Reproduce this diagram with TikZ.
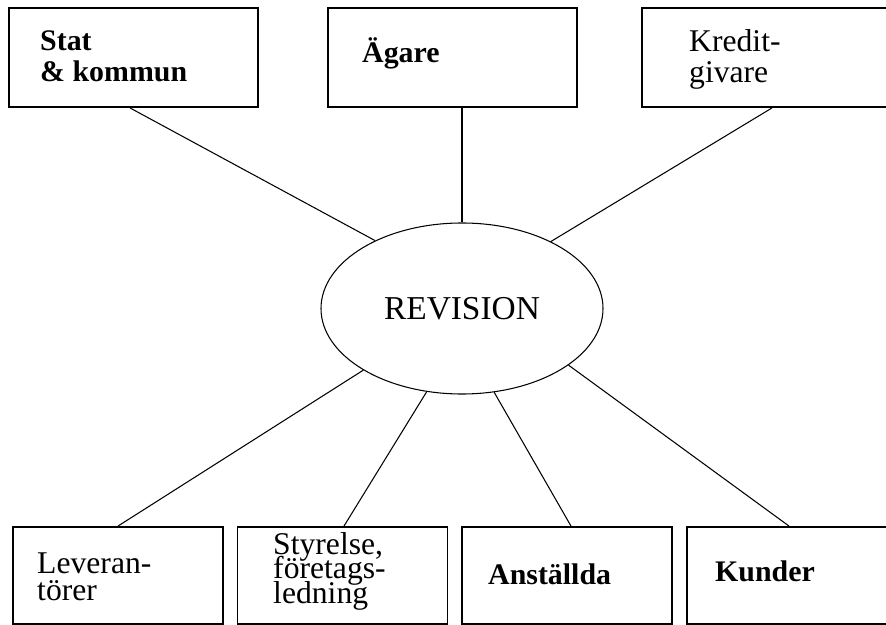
\documentclass[tikz,border=0pt]{standalone}
\usepackage{fontspec}
\setmainfont{Liberation Serif}
\usetikzlibrary{positioning,shapes.geometric}
\AtBeginDocument{\setlength{\lineskiplimit}{-100pt}}

\begin{document}
\begin{tikzpicture}[x=0.03cm, y=-0.03cm,
  topbox/.style={draw, rectangle, line width=1.6pt, minimum width=7.47cm, minimum height=2.97cm, inner sep=0pt},
  botbox/.style={draw, rectangle, line width=1.6pt, minimum width=6.3cm, minimum height=2.91cm, inner sep=0pt},
  boxtext/.style={anchor=base west, inner sep=0pt, align=left, font=\fontsize{27}{26.5}\selectfont},
  boldtext/.style={boxtext, font=\fontsize{25.5}{27}\selectfont\bfseries},
  spoke/.style={line width=0.9pt}]
\useasboundingbox (0,0) rectangle (886,625);
\clip (0,0) rectangle (886,625);
% centre
\node[draw, ellipse, line width=0.9pt, minimum width=8.46cm, minimum height=5.13cm, inner sep=0pt,
      font=\fontsize{28.5}{30}\selectfont] (rev) at (462,308.5) {REVISION};
% top row
\node[topbox] (stat) at (133.5,57.5) {};
\node[topbox] (agare) at (452.5,57.5) {};
\node[topbox] (kredit) at (766.5,57.5) {};
\node[boldtext] (statlbl) at (40,82) {Stat\\\& kommun};
\node[boldtext] (agarelbl) at (362,63) {Ägare};
\node[boxtext] (kreditlbl) at (689,83) {Kredit-\\givare};
% bottom row
\node[botbox] (lev) at (118,575.5) {};
\node[botbox] (sty) at (342.5,575.5) {};
\node[botbox] (ans) at (567,575.5) {};
\node[botbox] (kun) at (792,575.5) {};
\node[boxtext, font=\fontsize{27}{23}\selectfont] (levlbl) at (37,600) {Leveran-\\törer};
\node[boxtext, font=\fontsize{27}{20.5}\selectfont] (stylbl) at (273,603) {Styrelse,\\företags-\\ledning};
\node[boldtext] (anslbl) at (488,584) {Anställda};
\node[boldtext] (kunlbl) at (715,581) {Kunder};
% spokes
\draw[spoke] (stat.south -| 130,0) -- (rev.142.4);
\draw[spoke] (agare.south -| rev.north) -- (rev.north);
\draw[spoke] (kredit.south -| 772,0) -- (rev.37.6);
\draw[spoke] (lev.north -| 118,0) -- (rev.212.6);
\draw[spoke] (sty.north -| 344,0) -- (rev.247);
\draw[spoke] (ans.north -| 571,0) -- (rev.291);
\draw[spoke] (kun.north -| 789,0) -- (rev.332.4);
\end{tikzpicture}
\end{document}
